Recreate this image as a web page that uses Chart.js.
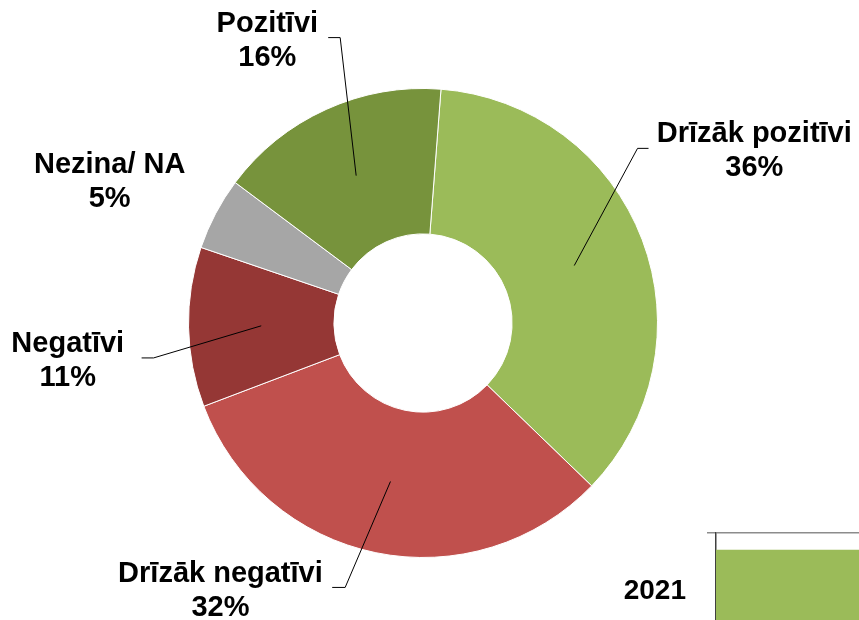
<!DOCTYPE html>
<html lang="lv">
<head>
  <meta charset="UTF-8">
  <title>Attieksme</title>
  <script src="https://cdn.jsdelivr.net/npm/chart.js"></script>
  <style>
    body { margin: 0; width: 859px; height: 620px; overflow: hidden; background: #fff; position: relative; }
    #pieBox { position: absolute; left: 0; top: 0; width: 859px; height: 620px; }
    #barChart { position: absolute; left: 600px; top: 500px; }
  </style>
</head>
<body>
  <div id="pieBox"><canvas id="pieChart"></canvas></div>
  <canvas id="barChart" width="400" height="149"></canvas>

  <script>
    // doughnut data
    const categories = ['Drīzāk pozitīvi', 'Drīzāk negatīvi', 'Negatīvi', 'Nezina/ NA', 'Pozitīvi'];
    const shares = [36, 32, 11, 5, 16];
    const colors = ['#9BBB59', '#C0504D', '#953735', '#A6A6A6', '#77933C'];

    // the cut-off bar chart in the corner
    const barYears = ['2021'];
    const barValues = [62];

    const FONT = 'bold 29px "Liberation Sans", Arial, sans-serif';

    // label placement, px from the centre for a 235px outer radius
    // text: centre x / first baseline; line: elbow and end of the leader
    const labelLayout = [
      { text: [332, -181], elbow: [215, -175], end: [226, -175] },
      { text: [-203, 260], elbow: [-78, 265], end: [-91, 265] },
      { text: [-356, 29], elbow: [-270, 35], end: [-282, 35] },
      { text: [-314, -150], elbow: null, end: null },
      { text: [-156, -292], elbow: [-83, -286], end: [-95, -286] }
    ];

    const calloutPlugin = {
      id: 'callouts',
      afterDraw(chart) {
        const ctx = chart.ctx;
        const meta = chart.getDatasetMeta(0);
        ctx.save();
        meta.data.forEach((arc, i) => {
          const k = arc.outerRadius / 235;
          const cx = arc.x, cy = arc.y;
          const lay = labelLayout[i];
          if (lay.elbow) {
            const p = arc.getCenterPoint();
            ctx.beginPath();
            ctx.moveTo(p.x, p.y);
            ctx.lineTo(cx + lay.elbow[0] * k, cy + lay.elbow[1] * k);
            ctx.lineTo(cx + lay.end[0] * k, cy + lay.end[1] * k);
            ctx.strokeStyle = '#000';
            ctx.lineWidth = 1;
            ctx.stroke();
          }
          ctx.fillStyle = '#000';
          ctx.font = FONT;
          ctx.textAlign = 'center';
          ctx.textBaseline = 'alphabetic';
          const tx = cx + lay.text[0] * k, ty = cy + lay.text[1] * k;
          ctx.fillText(categories[i], tx, ty);
          ctx.fillText(shares[i] + '%', tx, ty + 34);
        });
        ctx.restore();
      }
    };

    new Chart(document.getElementById('pieChart'), {
      type: 'doughnut',
      data: {
        labels: categories,
        datasets: [{
          data: shares,
          backgroundColor: colors,
          borderColor: '#fff',
          borderWidth: 1
        }]
      },
      options: {
        responsive: true,
        maintainAspectRatio: false,
        animation: false,
        rotation: 4.4,
        cutout: '38%',
        layout: { padding: { left: 188, right: 201, top: 88, bottom: 62 } },
        plugins: { legend: { display: false }, tooltip: { enabled: false } }
      },
      plugins: [calloutPlugin]
    });

    new Chart(document.getElementById('barChart'), {
      type: 'bar',
      data: {
        labels: barYears,
        datasets: [{
          data: barValues,
          backgroundColor: '#9BBB59',
          barPercentage: 0.71,
          categoryPercentage: 1
        }]
      },
      options: {
        indexAxis: 'y',
        responsive: false,
        animation: false,
        layout: { padding: { top: 33, left: 0, right: 0, bottom: 0 } },
        scales: {
          x: { display: false, min: 0, max: 100 },
          y: {
            afterFit: s => { s.width = 116; s.paddingTop = 0; s.paddingBottom = 0; },
            border: { display: true, color: '#404040', width: 1.5 },
            grid: { offset: true, color: '#8c8c8c', lineWidth: 1.5, tickLength: 9 },
            ticks: { padding: 21, color: '#000', font: { family: '"Liberation Sans", Arial, sans-serif', size: 28, weight: 'bold' } }
          }
        },
        plugins: { legend: { display: false }, tooltip: { enabled: false } }
      }
    });
  </script>
</body>
</html>
